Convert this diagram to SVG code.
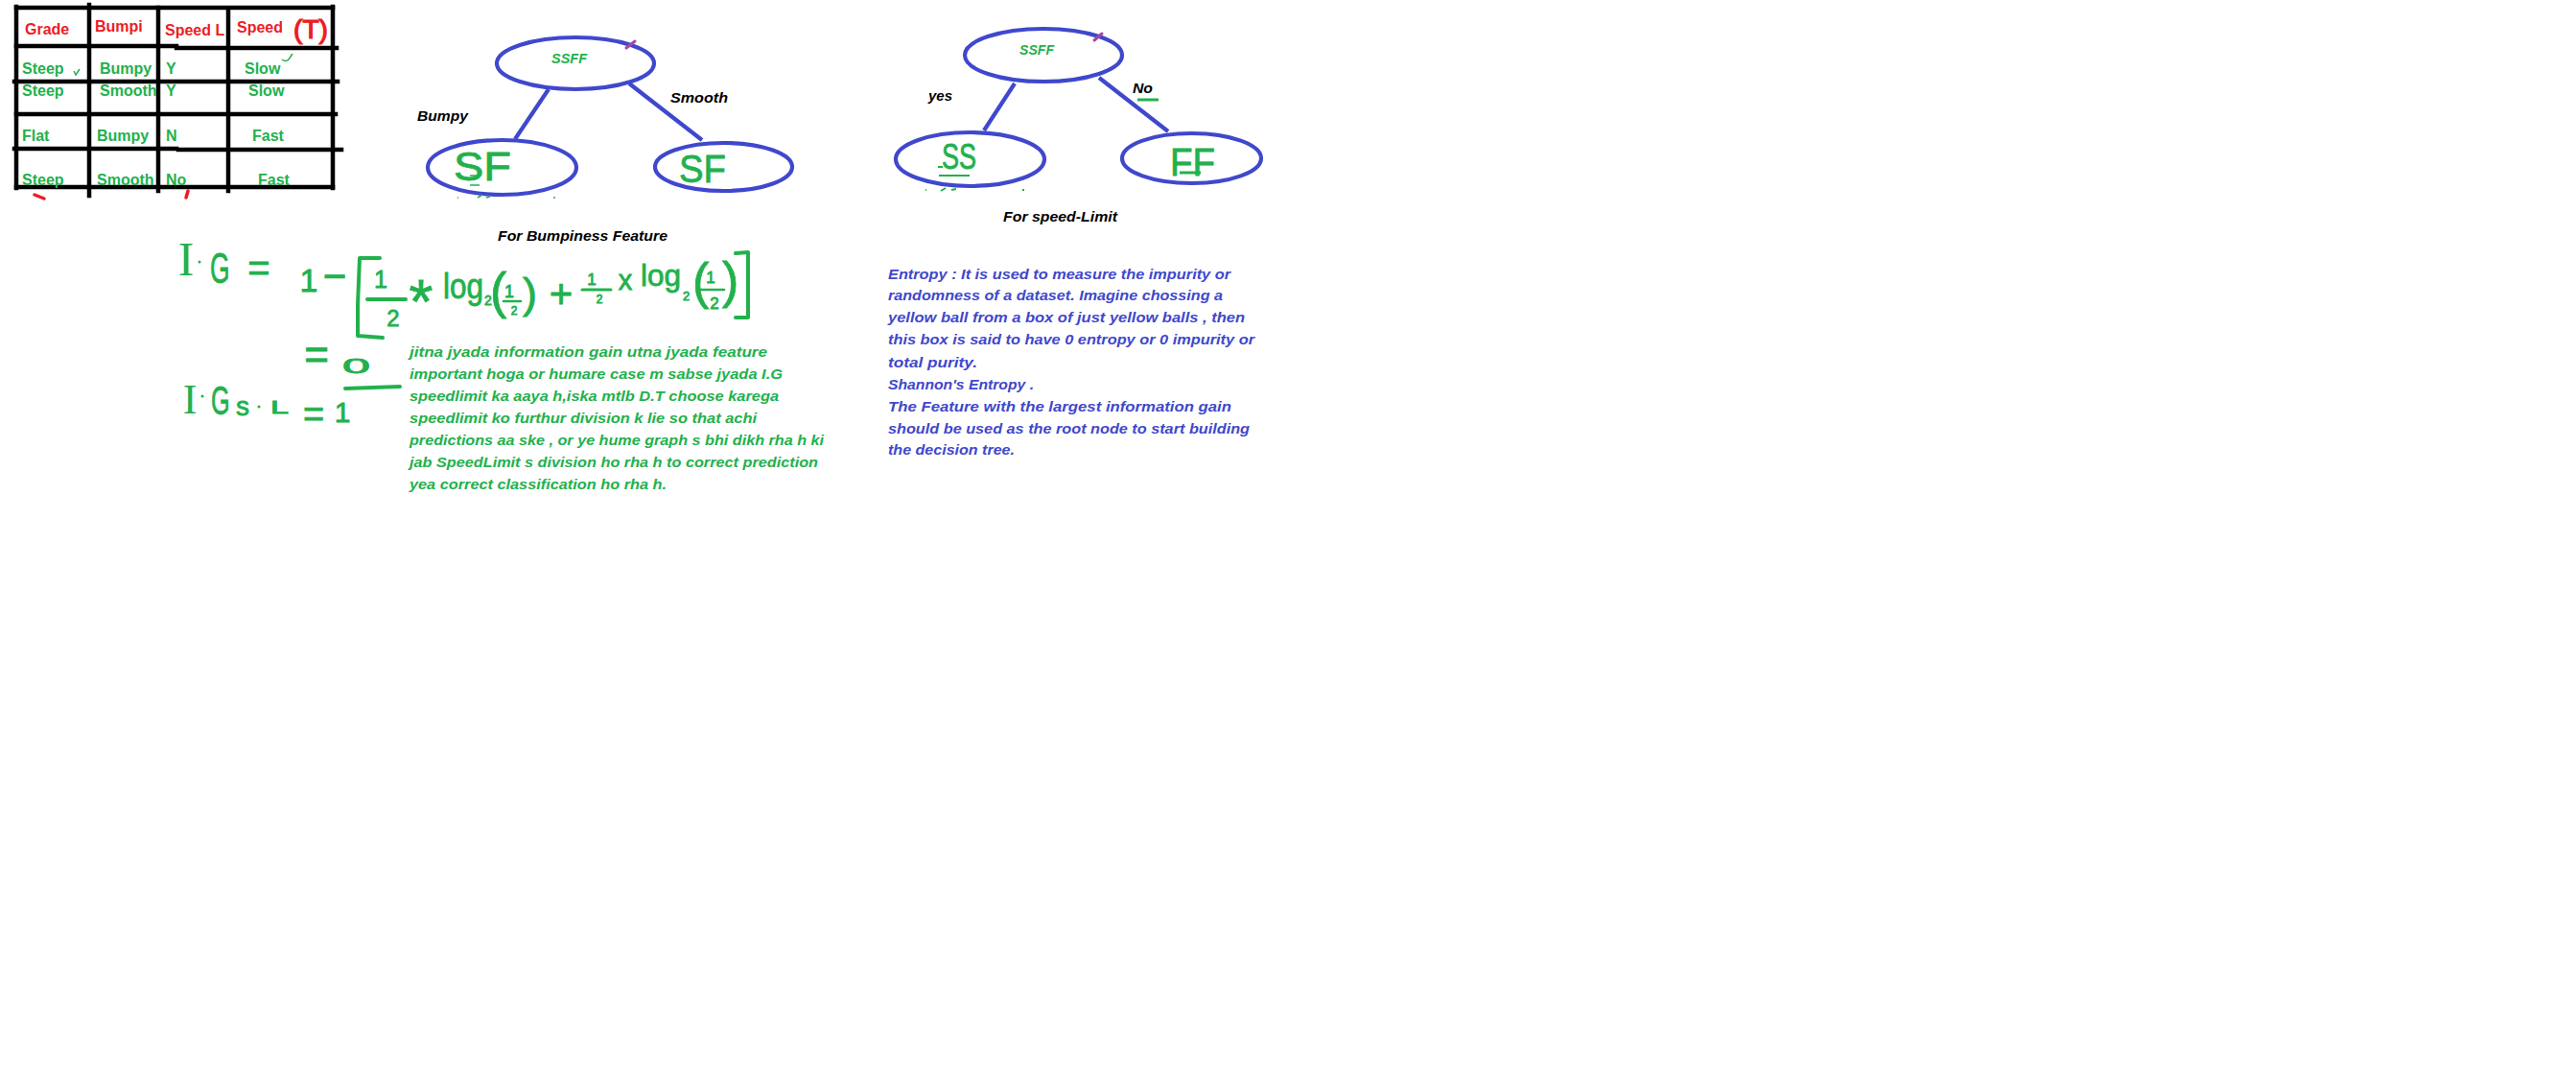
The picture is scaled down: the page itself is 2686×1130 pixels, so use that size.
<svg xmlns="http://www.w3.org/2000/svg" width="2686" height="1130" viewBox="0 0 2686 1130">
<style>
.bg{fill:#fff}
.tl{stroke:#000;stroke-width:4.5;stroke-linecap:square}
.hdr{font-family:"Liberation Sans",Arial,sans-serif;font-weight:bold;font-size:16px;fill:#ED1C24}
.cell{font-family:"Liberation Sans",Arial,sans-serif;font-weight:bold;font-size:16px;fill:#22B14C}
.node{fill:none;stroke:#3F48CC;stroke-width:4.2}
.edge{stroke:#3F48CC;stroke-width:4.2;stroke-linecap:butt}
.lbl{font-family:"Liberation Sans",Arial,sans-serif;font-weight:bold;font-style:italic;font-size:15px;fill:#000}
.ntx{font-family:"Liberation Sans",Arial,sans-serif;font-weight:bold;font-style:italic;font-size:15px;fill:#22B14C}
.hw{font-family:"Liberation Sans",Arial,sans-serif;fill:#22B14C;stroke:#22B14C;stroke-width:0.8}
.hws{font-family:"Liberation Serif","Times New Roman",serif;fill:#22B14C}
.hl{stroke:#22B14C;stroke-width:4;fill:none;stroke-linecap:round;stroke-linejoin:round}
.gt{font-family:"Liberation Sans",Arial,sans-serif;font-weight:bold;font-style:italic;font-size:15px;fill:#22B14C}
.bt{font-family:"Liberation Sans",Arial,sans-serif;font-weight:bold;font-style:italic;font-size:15px;fill:#3F48CC}
.red{stroke:#ED1C24;stroke-width:3.5;fill:none;stroke-linecap:round}
.pm{stroke:#A349A4;stroke-width:3;stroke-linecap:round}
</style>
<rect class="bg" x="0" y="0" width="2686" height="1130"/>

<g id="table">
  <line class="tl" x1="17" y1="7" x2="17" y2="196"/>
  <line class="tl" x1="93" y1="5" x2="93" y2="204"/>
  <line class="tl" x1="165" y1="8" x2="165" y2="199"/>
  <line class="tl" x1="238" y1="10" x2="238" y2="199"/>
  <line class="tl" x1="347" y1="7" x2="347" y2="196"/>
  <line class="tl" x1="17" y1="8" x2="347" y2="8"/>
  <line class="tl" x1="17" y1="48" x2="184" y2="48"/>
  <line class="tl" x1="184" y1="50" x2="351" y2="50"/>
  <line class="tl" x1="15" y1="85" x2="352" y2="85"/>
  <line class="tl" x1="17" y1="119" x2="350" y2="119"/>
  <line class="tl" x1="15" y1="155" x2="184" y2="155"/>
  <line class="tl" x1="186" y1="156" x2="356" y2="156"/>
  <line class="tl" x1="17" y1="195" x2="347" y2="195"/>
  <text class="hdr" x="26" y="36">Grade</text>
  <text class="hdr" x="99" y="33">Bumpi</text>
  <text class="hdr" x="172" y="37">Speed L</text>
  <text class="hdr" x="247" y="34">Speed</text>
  <text x="306" y="40" textLength="36" lengthAdjust="spacingAndGlyphs" style="font-family:'Liberation Sans',Arial,sans-serif;font-size:28px;fill:#ED1C24;stroke:#ED1C24;stroke-width:1.2">(T)</text>
  <text class="cell" x="23" y="77">Steep</text>
  <text class="cell" x="104" y="77">Bumpy</text>
  <text class="cell" x="173" y="77">Y</text>
  <text class="cell" x="255" y="77">Slow</text>
  <text class="cell" x="23" y="100">Steep</text>
  <text class="cell" x="104" y="100">Smooth</text>
  <text class="cell" x="173" y="100">Y</text>
  <text class="cell" x="259" y="100">Slow</text>
  <text class="cell" x="23" y="147">Flat</text>
  <text class="cell" x="101" y="147">Bumpy</text>
  <text class="cell" x="173" y="147">N</text>
  <text class="cell" x="263" y="147">Fast</text>
  <text class="cell" x="23" y="193">Steep</text>
  <text class="cell" x="101" y="193">Smooth</text>
  <text class="cell" x="173" y="193">No</text>
  <text class="cell" x="269" y="193">Fast</text>
  <path d="M77,74 L79,78 L83,72" stroke="#22B14C" stroke-width="1.5" fill="none"/>
  <path d="M294,62 Q298,65 301,62 L305,56" stroke="#22B14C" stroke-width="1.5" fill="none"/>
  <path class="red" d="M36,203 L46,207"/>
  <path class="red" d="M196,199 L194,206"/>
</g>

<g id="connectors">
  <line class="edge" x1="572" y1="93" x2="537" y2="145"/>
  <line class="edge" x1="656" y1="87" x2="732" y2="146"/>
  <line class="edge" x1="1058" y1="87" x2="1026" y2="136"/>
  <line class="edge" x1="1146" y1="81" x2="1218" y2="137"/>
</g>

<g id="t1-root">
  <ellipse class="node" cx="600" cy="66" rx="82" ry="27"/>
  <text class="ntx" x="575" y="66" textLength="37" lengthAdjust="spacingAndGlyphs">SSFF</text>
  <line class="pm" x1="653" y1="50" x2="662" y2="43"/>
</g>
<g id="t1-bumpy">
  <ellipse class="node" cx="523.5" cy="174.5" rx="77.5" ry="28.5"/>
  <text class="hw" x="473" y="188" font-size="42" textLength="60" lengthAdjust="spacingAndGlyphs">SF</text>
  <path d="M490,183 L498,183 M490,193 L500,193 M477,206 L478,206 M498,206 L503,203 M507,206 L511,205 M578,205 L578,207" stroke="#22B14C" stroke-width="1.5" fill="none"/>
</g>
<g id="t1-smooth">
  <ellipse class="node" cx="754.5" cy="174" rx="71.5" ry="25"/>
  <text class="hw" x="708" y="190" font-size="41" textLength="49" lengthAdjust="spacingAndGlyphs">SF</text>
</g>
<g id="t1-labels">
  <text class="lbl" x="435" y="126" textLength="53" lengthAdjust="spacingAndGlyphs">Bumpy</text>
  <text class="lbl" x="699" y="107" textLength="60" lengthAdjust="spacingAndGlyphs">Smooth</text>
  <text class="lbl" x="519" y="251" textLength="177" lengthAdjust="spacingAndGlyphs">For Bumpiness Feature</text>
</g>

<g id="t2-root">
  <ellipse class="node" cx="1088" cy="57.5" rx="82" ry="27.5"/>
  <text class="ntx" x="1063" y="57" textLength="36" lengthAdjust="spacingAndGlyphs">SSFF</text>
  <line class="pm" x1="1141" y1="42" x2="1149" y2="35"/>
</g>
<g id="t2-yes">
  <ellipse class="node" cx="1011.5" cy="166" rx="77.5" ry="28"/>
  <text class="hw" x="982" y="176" font-size="36" textLength="36" lengthAdjust="spacingAndGlyphs">SS</text>
  <path d="M979,183 L1011,183 M978,174 L983,174 M965,198 L966,198 M981,199 L986,196 M992,198 L997,197 M1067,197 L1067,199" stroke="#22B14C" stroke-width="2" fill="none"/>
</g>
<g id="t2-no">
  <ellipse class="node" cx="1242.5" cy="165" rx="72.5" ry="26"/>
  <text class="hw" x="1220" y="183" font-size="41" textLength="47" lengthAdjust="spacingAndGlyphs">FF</text>
  <line x1="1230" y1="180" x2="1252" y2="180" stroke="#22B14C" stroke-width="3"/>
</g>
<g id="t2-labels">
  <text class="lbl" x="968" y="105" textLength="25" lengthAdjust="spacingAndGlyphs">yes</text>
  <text class="lbl" x="1181" y="97" textLength="21" lengthAdjust="spacingAndGlyphs">No</text>
  <line x1="1186" y1="104" x2="1208" y2="104" stroke="#22B14C" stroke-width="3"/>
  <text class="lbl" x="1046" y="231" textLength="119" lengthAdjust="spacingAndGlyphs">For speed-Limit</text>
</g>

<g id="formula">
  <text class="hws" x="194" y="287" font-size="50" text-anchor="middle">I</text>
  <circle cx="208" cy="273" r="1.5" fill="#22B14C"/>
  <text class="hw" transform="translate(219,295) scale(0.6,1)" font-size="44">G</text>
  <text class="hw" x="270" y="293" font-size="40" text-anchor="middle">=</text>
  <text class="hw" x="322" y="304" font-size="34" text-anchor="middle">1</text>
  <text class="hw" x="349" y="302" font-size="42" text-anchor="middle">−</text>
  <path class="hl" d="M396,269 L375,269 L373,318 L373,350 L399,352"/>
  <text class="hw" x="397" y="300" font-size="25" text-anchor="middle">1</text>
  <line class="hl" x1="383" y1="312" x2="423" y2="312"/>
  <text class="hw" x="410" y="340" font-size="24" text-anchor="middle">2</text>
  <text class="hw" x="439" y="337" font-size="64" text-anchor="middle">*</text>
  <text class="hw" x="462" y="311" font-size="36" textLength="42" lengthAdjust="spacingAndGlyphs">log</text>
  <text class="hw" x="505" y="318" font-size="14">2</text>
  <text class="hw" x="511" y="321" font-size="52">(</text>
  <text class="hw" x="531" y="310" font-size="18" text-anchor="middle">1</text>
  <line class="hl" x1="525" y1="314" x2="543" y2="314" style="stroke-width:2.5"/>
  <text class="hw" x="536" y="328" font-size="12" text-anchor="middle">2</text>
  <text class="hw" x="545" y="321" font-size="45">)</text>
  <text class="hw" x="585" y="321" font-size="42" text-anchor="middle">+</text>
  <text class="hw" x="617" y="297" font-size="17" text-anchor="middle">1</text>
  <line class="hl" x1="607" y1="302" x2="637" y2="302" style="stroke-width:3"/>
  <text class="hw" x="625" y="316" font-size="12" text-anchor="middle">2</text>
  <text class="hw" x="652" y="302" font-size="29" text-anchor="middle">x</text>
  <text class="hw" x="668" y="298" font-size="32" textLength="42" lengthAdjust="spacingAndGlyphs">log</text>
  <text class="hw" x="712" y="313" font-size="13">2</text>
  <text class="hw" x="722" y="311" font-size="52">(</text>
  <text class="hw" x="741" y="295" font-size="17" text-anchor="middle">1</text>
  <line class="hl" x1="730" y1="302" x2="755" y2="302" style="stroke-width:2.5"/>
  <text class="hw" x="745" y="322" font-size="17" text-anchor="middle">2</text>
  <text class="hw" x="753" y="310" font-size="52">)</text>
  <path class="hl" d="M767,264 L780,263 L780,331 L767,331"/>

  <text class="hw" x="330" y="385" font-size="44" text-anchor="middle">=</text>
  <text class="hw" x="357" y="389" font-size="22" textLength="29" lengthAdjust="spacingAndGlyphs">0</text>
  <path class="hl" d="M360,405 L388,404 L417,403"/>

  <text class="hws" x="198" y="431" font-size="44" text-anchor="middle">I</text>
  <circle cx="211" cy="413" r="1.5" fill="#22B14C"/>
  <text class="hw" transform="translate(220,432) scale(0.6,1)" font-size="42">G</text>
  <text class="hw" x="246" y="433" font-size="28">s</text>
  <circle cx="270" cy="424" r="1.5" fill="#22B14C"/>
  <text class="hw" transform="translate(282,431) scale(1.9,1)" font-size="18">L</text>
  <text class="hw" x="327" y="445" font-size="38" text-anchor="middle">=</text>
  <text class="hw" x="357" y="440" font-size="30" text-anchor="middle">1</text>
</g>

<g id="note-green">
  <text class="gt" x="427" y="372" textLength="373" lengthAdjust="spacingAndGlyphs">jitna jyada information gain utna jyada feature</text>
  <text class="gt" x="427" y="395" textLength="389" lengthAdjust="spacingAndGlyphs">important hoga or humare case m sabse jyada I.G</text>
  <text class="gt" x="427" y="418" textLength="385" lengthAdjust="spacingAndGlyphs">speedlimit ka aaya h,iska mtlb D.T choose karega</text>
  <text class="gt" x="427" y="441" textLength="362" lengthAdjust="spacingAndGlyphs">speedlimit ko furthur division k lie so that achi</text>
  <text class="gt" x="427" y="464" textLength="432" lengthAdjust="spacingAndGlyphs">predictions aa ske , or ye hume graph s bhi dikh rha h ki</text>
  <text class="gt" x="427" y="487" textLength="426" lengthAdjust="spacingAndGlyphs">jab SpeedLimit s division ho rha h to correct prediction</text>
  <text class="gt" x="427" y="510" textLength="268" lengthAdjust="spacingAndGlyphs">yea correct classification ho rha h.</text>
</g>

<g id="note-entropy">
  <text class="bt" x="926" y="291" textLength="357" lengthAdjust="spacingAndGlyphs">Entropy : It is used to measure the impurity or</text>
  <text class="bt" x="926" y="313" textLength="349" lengthAdjust="spacingAndGlyphs">randomness of a dataset. Imagine chossing a</text>
  <text class="bt" x="926" y="336" textLength="372" lengthAdjust="spacingAndGlyphs">yellow ball from a box of just yellow balls , then</text>
  <text class="bt" x="926" y="359" textLength="382" lengthAdjust="spacingAndGlyphs">this box is said to have 0 entropy or 0 impurity or</text>
  <text class="bt" x="926" y="383" textLength="93" lengthAdjust="spacingAndGlyphs">total purity.</text>
  <text class="bt" x="926" y="406" textLength="152" lengthAdjust="spacingAndGlyphs">Shannon's Entropy .</text>
  <text class="bt" x="926" y="429" textLength="358" lengthAdjust="spacingAndGlyphs">The Feature with the largest information gain</text>
  <text class="bt" x="926" y="452" textLength="377" lengthAdjust="spacingAndGlyphs">should be used as the root node to start building</text>
  <text class="bt" x="926" y="474" textLength="132" lengthAdjust="spacingAndGlyphs">the decision tree.</text>
</g>
</svg>
